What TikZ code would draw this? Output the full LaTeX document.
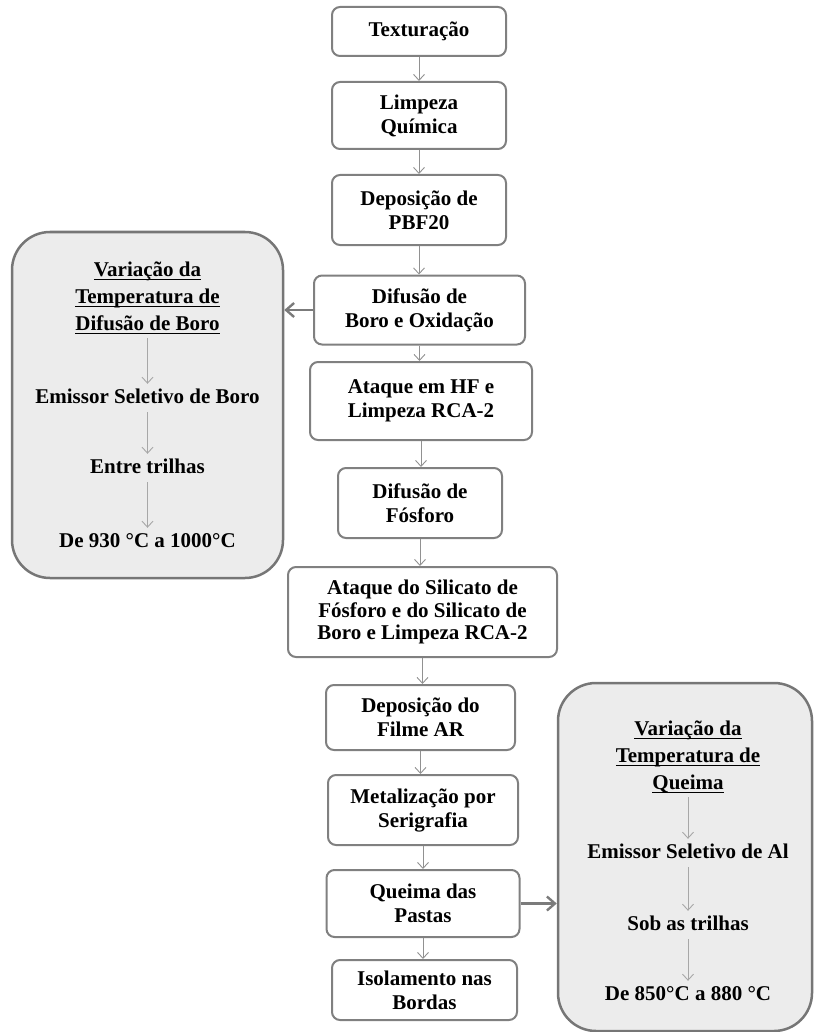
\documentclass[tikz,border=0pt]{standalone}
\usepackage{fontspec}
\setmainfont{Liberation Serif}
\usepackage{tikz}
\usetikzlibrary{positioning, arrows.meta}
\definecolor{boxline}{RGB}{128,128,128}
\definecolor{arrowgray}{RGB}{145,145,145}
\definecolor{panelfill}{RGB}{236,236,236}
\definecolor{panelline}{RGB}{118,118,118}
\newcommand{\titleline}[1]{\leavevmode\setbox0\hbox{#1}\rlap{\rule[-3.5pt]{\wd0}{1.1pt}}\box0}

\begin{document}
\begin{tikzpicture}[x=1pt, y=-1pt,
    every node/.style={font=\bfseries\fontsize{21}{24}\selectfont, align=center},
    stepbox/.style={draw=boxline, line width=2pt, rounded corners=8pt, fill=white, inner sep=2pt},
    panel/.style={draw=panelline, line width=2.5pt, rounded corners=38pt, fill=panelfill},
    flow/.style={draw=arrowgray, line width=0.9pt, -{Straight Barb[length=6pt,width=11pt]}},
    side/.style={draw=arrowgray!85!black, line width=2.4pt, -{Straight Barb[length=8pt,width=14pt]}},
    inflow/.style={draw=arrowgray!80, line width=0.9pt, -{Straight Barb[length=6pt,width=11pt]}},
    ptext/.style={text height=15pt, text depth=5pt, inner sep=4pt},
    ptitle/.style={font=\bfseries\fontsize{21}{27}\selectfont, inner sep=4pt}]
  \useasboundingbox (0,0) rectangle (814,1032);

  \node[panel, minimum width=271pt, minimum height=346pt] (lpanel) at (147.5,405) {};
  \node[panel, minimum width=254pt, minimum height=348pt] (rpanel) at (685,857) {};

  \node[stepbox, minimum width=174pt, minimum height=49pt] (tex) at (419,31.5) {Texturação};
  \node[stepbox, minimum width=174pt, minimum height=67pt] (limp) at (419,115.5) {Limpeza\\Química};
  \node[stepbox, minimum width=174pt, minimum height=70pt] (depo) at (419,210) {Deposição de\\PBF20};
  \node[stepbox, minimum width=211pt, minimum height=69pt] (difb) at (419.5,310) {Difusão de\\Boro e Oxidação};
  \node[stepbox, minimum width=222pt, minimum height=78pt] (ahf) at (421,401) {Ataque em HF e\\Limpeza RCA-2};
  \node[stepbox, minimum width=164pt, minimum height=70pt] (diff) at (420,503) {Difusão de\\Fósforo};
  \node[stepbox, minimum width=269pt, minimum height=90pt,
        font=\bfseries\fontsize{21}{22.5}\selectfont] (asil) at (422.5,612)
        {Ataque do Silicato de\\Fósforo e do Silicato de\\Boro e Limpeza RCA-2};
  \node[stepbox, minimum width=189pt, minimum height=65pt] (dfil) at (420.5,717.5) {Deposição do\\Filme AR};
  \node[stepbox, minimum width=190pt, minimum height=70pt] (met) at (423,810) {Metalização por\\Serigrafia};
  \node[stepbox, minimum width=193pt, minimum height=67pt] (qpa) at (423,903.5) {Queima das\\Pastas};
  \node[stepbox, minimum width=185pt, minimum height=60pt] (iso) at (424.5,990) {Isolamento nas\\Bordas};

  \foreach \a/\b in {tex/limp, limp/depo, depo/difb, difb/ahf, ahf/diff,
                     diff/asil, asil/dfil, dfil/met, met/qpa, qpa/iso} {
    \draw[flow] (\a.south) -- (\a.south |- \b.north);
  }

  \draw[side] (difb.west) -- (difb.west -| lpanel.east);
  \draw[side] (qpa.east) -- (qpa.east -| rpanel.west);

  \node[ptitle] (ltitle) at (147.5,298) {\titleline{Variação da}\\\titleline{Temperatura de}\\\titleline{Difusão de Boro}};
  \node[ptext] (lsel) at (147.5,398) {Emissor Seletivo de Boro};
  \node[ptext] (lpos) at (147.5,468) {Entre trilhas};
  \node[ptext] (ltemp) at (147.5,542) {De 930 °C a 1000°C};
  \draw[inflow] (ltitle) -- (lsel);
  \draw[inflow] (lsel) -- (lpos);
  \draw[inflow] (lpos) -- (ltemp);

  \node[ptitle] (rtitle) at (688,757) {\titleline{Variação da}\\\titleline{Temperatura de}\\\titleline{Queima}};
  \node[ptext] (rsel) at (688,853) {Emissor Seletivo de Al};
  \node[ptext] (rpos) at (688,925) {Sob as trilhas};
  \node[ptext] (rtemp) at (688,995) {De 850°C a 880 °C};
  \draw[inflow] (rtitle) -- (rsel);
  \draw[inflow] (rsel) -- (rpos);
  \draw[inflow] (rpos) -- (rtemp);
\end{tikzpicture}
\end{document}
